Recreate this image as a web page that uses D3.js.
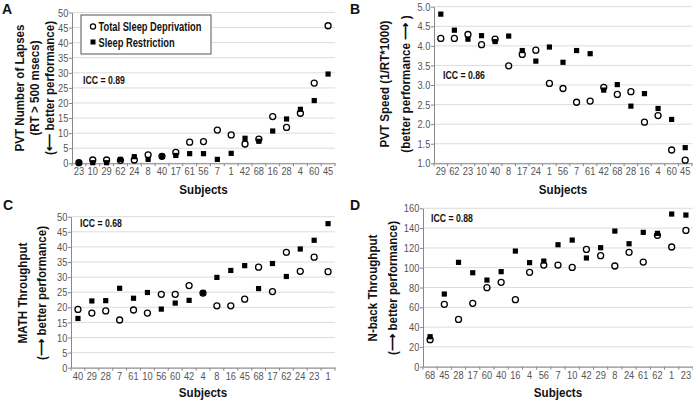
<!DOCTYPE html>
<html><head><meta charset="utf-8">
<script src="https://cdn.jsdelivr.net/npm/d3@7"></script>
<style>
body{margin:0;background:#fff;}
svg{display:block;}
.tick text{font-family:"Liberation Sans",Arial,sans-serif;font-size:11.3px;fill:#555;}
.bold{font-family:"Liberation Sans",Arial,sans-serif;font-weight:bold;fill:#111;}
</style></head>
<body>
<svg id="c" width="693" height="401"></svg>
<script>
// ---- Data ----
const subjectsA = ["23","10","29","62","24","8","40","17","61","56","7","1","42","68","16","28","4","60","45"];
const tsdA = [0.2,1.1,1.1,1.0,1.1,2.8,2.3,3.6,7.0,7.2,11.0,9.4,6.4,8.0,15.5,11.9,16.6,26.6,45.6];
const srA  = [0.2,0.2,0.2,1.3,2.2,1.3,2.3,2.6,3.2,3.2,1.3,3.3,8.3,7.3,10.7,14.7,17.9,20.8,29.6];

const subjectsB = ["29","62","23","10","40","8","17","24","1","56","7","61","42","68","28","16","4","60","45"];
const tsdB = [4.19,4.19,4.29,4.03,4.17,3.49,3.78,3.89,3.04,2.91,2.56,2.59,2.94,2.76,2.83,2.05,2.22,1.34,1.08];
const srB  = [4.81,4.40,4.17,4.26,4.11,4.25,3.88,3.61,3.97,3.58,3.88,3.80,2.87,3.01,2.46,2.78,2.40,2.12,1.40];

const subjectsC = ["40","29","28","7","61","10","56","60","42","4","8","16","45","68","17","62","24","23","1"];
const tsdC = [19.3,18.1,18.8,15.8,19.1,18.1,24.3,24.3,27.2,24.7,20.5,20.5,22.7,33.3,25.2,38.2,31.9,36.6,31.8];
const srC  = [16.3,22.1,22.2,26.3,23.0,24.9,19.4,21.4,22.3,24.7,29.9,32.2,33.8,26.2,34.5,30.2,39.3,42.2,47.7];

const subjectsD = ["68","45","28","17","60","40","16","4","56","7","10","42","29","8","24","61","62","1","23"];
const tsdD = [27.3,63.0,47.8,64.0,79.8,85.2,67.7,95.3,102.7,102.7,100.3,118.5,112.1,101.7,115.5,105.7,132.7,120.9,137.7];
const srD  = [30.3,73.4,105.4,94.9,87.5,96.0,116.8,105.1,106.7,123.2,127.9,109.8,120.2,137.0,124.2,135.7,134.7,154.2,153.2];

const yTicksA = d3.range(0, 51, 5);
const yTicksB = [1.0,1.5,2.0,2.5,3.0,3.5,4.0,4.5,5.0];
const yTicksC = d3.range(0, 51, 5);
const yTicksD = d3.range(0, 161, 20);

const legendLabels = ["Total Sleep Deprivation", "Sleep Restriction"];

const SX = 0.82; // horizontal condensing to mimic a narrow font
const svg = d3.select("#c");

function ctext(parent, x, y, txt, size, opts){
  opts = opts || {};
  const t = parent.append("text").attr("class","bold")
    .attr("transform", `translate(${x},${y})${opts.rot?" rotate(-90)":""} scale(${opts.sx||SX},1)`)
    .attr("font-size", size).attr("text-anchor", opts.anchor||"middle")
    .attr("dominant-baseline", opts.baseline||"central").text(txt);
  return t;
}

function panel(o){
  const g = svg.append("g");
  const x = d3.scaleBand().domain(o.cats).range([o.x0, o.x1]);
  const y = d3.scaleLinear().domain(o.ydom).range([o.yb, o.yt]);
  const bw = x.bandwidth();
  g.selectAll(".grid").data(o.yticks).enter().append("line")
    .attr("x1", o.x0).attr("x2", o.x1)
    .attr("y1", d=>y(d)).attr("y2", d=>y(d))
    .attr("stroke", "#dcdcdc").attr("stroke-width", 1);
  const ya = g.append("g").attr("transform", `translate(${o.x0},0)`)
    .call(d3.axisLeft(y).tickValues(o.yticks).tickSize(3).tickSizeOuter(0).tickFormat(o.fmt||(d=>d)));
  ya.select(".domain").attr("stroke", "#888");
  ya.selectAll(".tick line").attr("stroke", "#888");
  ya.selectAll(".tick text").attr("x", -4.5).attr("transform", `scale(${SX},1)`);
  const xa = g.append("g").attr("transform", `translate(0,${o.yb})`)
    .call(d3.axisBottom(x).tickSize(0).tickSizeOuter(0));
  xa.select(".domain").attr("stroke", "#888");
  xa.selectAll(".tick text").attr("dy", "0.71em").attr("y", 4).attr("transform", `scale(${SX},1)`);
  g.selectAll(".xsep").data(o.cats.concat([null])).enter().append("line")
    .attr("x1", (d,i)=> i<o.cats.length ? x(d) : o.x1)
    .attr("x2", (d,i)=> i<o.cats.length ? x(d) : o.x1)
    .attr("y1", o.yb).attr("y2", o.yb+3).attr("stroke", "#888");
  g.selectAll(".sq").data(o.sr).enter().append("rect")
    .attr("x", (d,i)=>x(o.cats[i])+bw/2-2.6).attr("y", d=>y(d)-2.6)
    .attr("width", 5.2).attr("height", 5.2).attr("fill", "#000");
  g.selectAll(".ci").data(o.tsd).enter().append("circle")
    .attr("cx", (d,i)=>x(o.cats[i])+bw/2).attr("cy", d=>y(d))
    .attr("r", 3).attr("fill", "none").attr("stroke", "#000").attr("stroke-width", 1.3);
  ctext(g, (o.x0+o.x1)/2, o.xt, "Subjects", 13.5, {sx:0.86});
  o.ytitles.forEach((t,i)=>{
    ctext(g, o.ytx[i], o.ytc, t, 13.5, {rot:true, sx:0.86});
  });
  g.append("text").attr("x", o.lx).attr("y", o.ly)
    .attr("font-family","Liberation Sans, Arial, sans-serif").attr("font-weight","bold")
    .attr("font-size", 14).attr("fill","#111").text(o.letter);
  ctext(g, o.iccx, o.iccy, o.icc, 11.8, {anchor:"start", sx:0.74});
  return {g,x,y};
}

panel({cats:subjectsA, tsd:tsdA, sr:srA, x0:72, x1:335, yb:163.3, yt:12.5, ydom:[0,50], yticks:yTicksA,
  xt:189.5, ytitles:["PVT Number of Lapses","(RT > 500 msecs)","(\u27F5 better performance)"], ytx:[20,35,50], ytc:88,
  letter:"A", lx:2, ly:14, icc:"ICC = 0.89", iccx:83, iccy:80});
panel({cats:subjectsB, tsd:tsdB, sr:srB, x0:434, x1:692, yb:163.3, yt:6.7, ydom:[1,5], yticks:yTicksB, fmt:d3.format(".1f"),
  xt:190, ytitles:["PVT Speed (1/RT*1000)","(better performance \u27F6 )"], ytx:[385,406], ytc:84,
  letter:"B", lx:350, ly:14, icc:"ICC = 0.86", iccx:443, iccy:75});
panel({cats:subjectsC, tsd:tsdC, sr:srC, x0:71, x1:335, yb:367.7, yt:216.7, ydom:[0,50], yticks:yTicksC,
  xt:393, ytitles:["MATH Throughput","(\u27F6 better performance)"], ytx:[23,42], ytc:293,
  letter:"C", lx:3, ly:210, icc:"ICC = 0.68", iccx:80, iccy:223});
panel({cats:subjectsD, tsd:tsdD, sr:srD, x0:423, x1:693, yb:366.7, yt:208.3, ydom:[0,160], yticks:yTicksD,
  xt:393, ytitles:["N-back Throughput","(\u27F6 better performance)"], ytx:[373,393], ytc:288,
  letter:"D", lx:350, ly:210, icc:"ICC = 0.88", iccx:431, iccy:218});

// legend (panel A)
const lg = svg.append("g");
lg.append("rect").attr("x", 81).attr("y", 15).attr("width", 130).attr("height", 39)
  .attr("fill", "#fff").attr("stroke", "#555").attr("stroke-width", 1);
lg.append("circle").attr("cx", 93).attr("cy", 26.5).attr("r", 2.6).attr("fill","none").attr("stroke","#000").attr("stroke-width",1.2);
lg.append("rect").attr("x", 90.5).attr("y", 39.5).attr("width", 5).attr("height", 5).attr("fill","#000");
legendLabels.forEach((t,i)=>{
  ctext(lg, 98.5, [26.5,42][i], t, 12.6, {anchor:"start", sx:0.74});
});
</script>
</body></html>
